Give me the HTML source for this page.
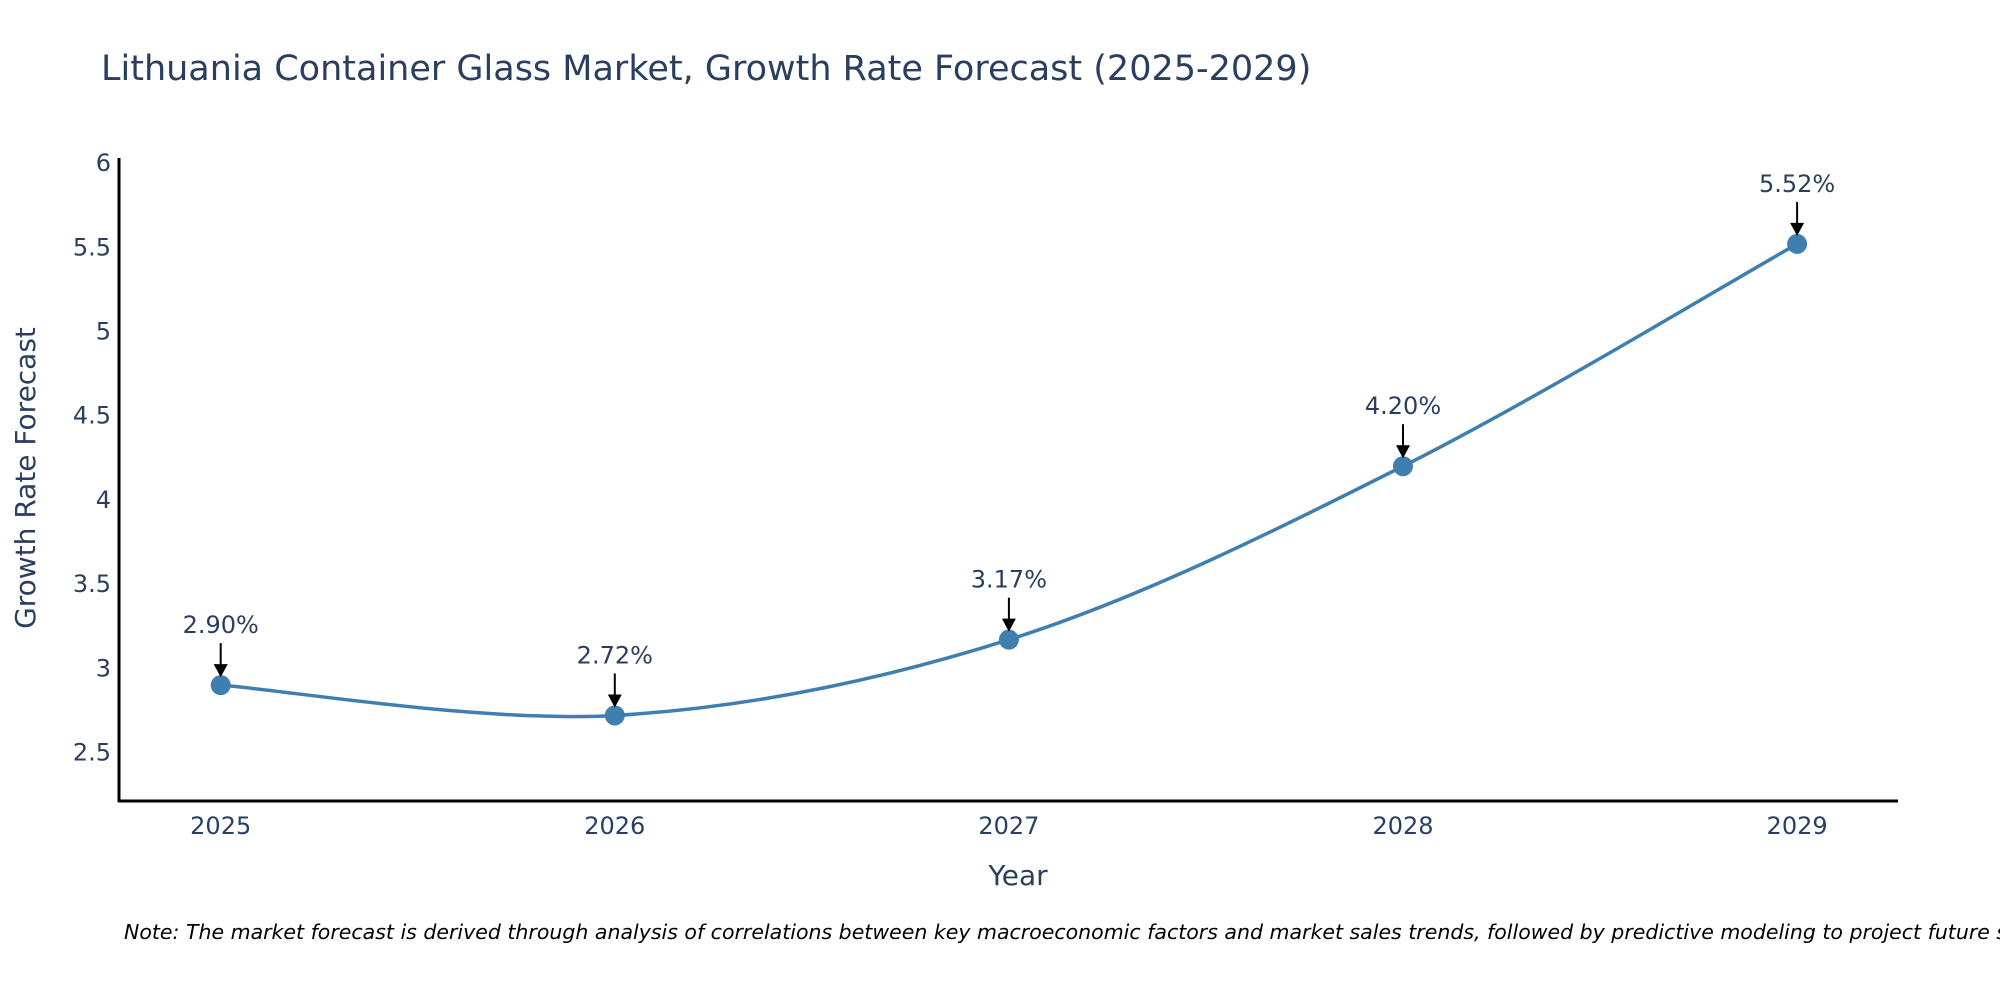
<!DOCTYPE html>
<html><head><meta charset="utf-8"><style>
body{margin:0;background:#fff;}
svg{display:block;font-family:"DejaVu Sans","Liberation Sans",sans-serif;}
</style></head><body>
<svg id="chart" width="2000" height="1000" viewBox="0 0 2000 1000">
<text x="101" y="80" font-size="35" fill="#2a3f5f">Lithuania Container Glass Market, Growth Rate Forecast (2025-2029)</text>
<g id="yticks"></g>
<g id="xticks"></g>
<line x1="119" y1="158" x2="119" y2="802" stroke="#000" stroke-width="3"/>
<line x1="118" y1="801" x2="1898" y2="801" stroke="#000" stroke-width="3"/>
<path id="line" fill="none" stroke="#3f7fb0" stroke-width="3.5"/>
<g id="points"></g>
<text x="1018" y="885" font-size="28" fill="#2a3f5f" text-anchor="middle">Year</text>
<text x="0" y="0" font-size="28" fill="#2a3f5f" text-anchor="middle" transform="translate(35,478) rotate(-90)">Growth Rate Forecast</text>
<text x="124" y="939" font-size="20.5" font-style="italic" fill="#000">Note: The market forecast is derived through analysis of correlations between key macroeconomic factors and market sales trends, followed by predictive modeling to project future sales.</text>
</svg>
<script>
const years=[2025,2026,2027,2028,2029];
const values=[2.90,2.72,3.17,4.20,5.52];
const labels=["2.90%","2.72%","3.17%","4.20%","5.52%"];
const yTicks=[2.5,3,3.5,4,4.5,5,5.5,6];
const NS="http://www.w3.org/2000/svg";
function xs(v){return 220.7+(v-2025)*394.1;}
function ys(v){return 752.5-(v-2.5)*168.4;}
function mk(t,a,p){const e=document.createElementNS(NS,t);for(const k in a)e.setAttribute(k,a[k]);p.appendChild(e);return e;}
const yt=document.getElementById('yticks');
yTicks.forEach(v=>{const t=mk('text',{x:111,y:ys(v)+8,'font-size':24,fill:'#2a3f5f','text-anchor':'end'},yt);t.textContent=String(v);

});
const xt=document.getElementById('xticks');
years.forEach(v=>{const t=mk('text',{x:xs(v),y:834,'font-size':24,fill:'#2a3f5f','text-anchor':'middle'},xt);t.textContent=String(v);

});
const P=years.map((y,i)=>[xs(y),ys(values[i])]);
let d='M'+P[0][0]+','+P[0][1];
const s=0.5/3*2;
for(let i=0;i<P.length-1;i++){const p0=P[Math.max(0,i-1)],p1=P[i],p2=P[i+1],p3=P[Math.min(P.length-1,i+2)];
const c1=[p1[0]+(p2[0]-p0[0])*s/2,p1[1]+(p2[1]-p0[1])*s/2],c2=[p2[0]-(p3[0]-p1[0])*s/2,p2[1]-(p3[1]-p1[1])*s/2];
d+=' C'+c1+' '+c2+' '+p2;}
document.getElementById('line').setAttribute('d',d);
const pg=document.getElementById('points');
P.forEach((p,i)=>{
const c=mk('circle',{cx:p[0],cy:p[1],r:10,fill:'#3f7fb0'},pg);


const l=mk('line',{x1:p[0],y1:p[1]-42,x2:p[0],y2:p[1]-20,stroke:'#000','stroke-width':2},pg);


const a=mk('polygon',{points:(p[0]-7)+','+(p[1]-21)+' '+(p[0]+7)+','+(p[1]-21)+' '+p[0]+','+(p[1]-8),fill:'#000'},pg);


const t=mk('text',{x:p[0],y:p[1]-52,'font-size':24,fill:'#2a3f5f','text-anchor':'middle'},pg);t.textContent=labels[i];


});
</script>
</body></html>
